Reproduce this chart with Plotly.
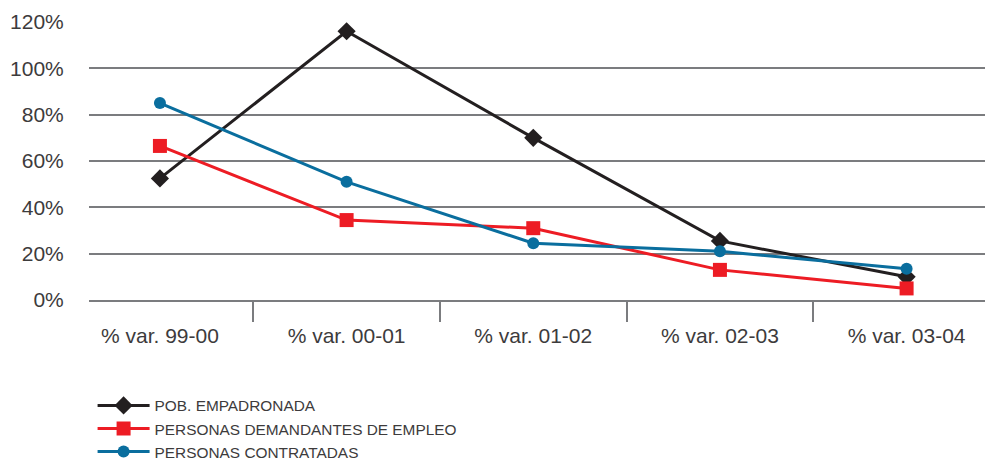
import plotly.graph_objects as go

# Year-over-year variation by period
categories = ["% var. 99-00", "% var. 00-01", "% var. 01-02", "% var. 02-03", "% var. 03-04"]
pob_empadronada = [52.5, 116, 70, 25.5, 10]
demandantes_empleo = [66.5, 34.5, 31, 13, 5]
contratadas = [85, 51, 24.5, 21, 13.5]

y_ticks = [0, 20, 40, 60, 80, 100, 120]
y_tick_labels = [f"{v}%" for v in y_ticks]

series_names = ["POB. EMPADRONADA", "PERSONAS DEMANDANTES DE EMPLEO", "PERSONAS CONTRATADAS"]

GRID = "#7b7c7f"
TEXT = "#3d3b3c"
FONT = "Liberation Sans"

fig = go.Figure()

fig.add_trace(go.Scatter(
    x=categories, y=pob_empadronada, name=series_names[0],
    mode="lines+markers", cliponaxis=False,
    line=dict(color="#231f20", width=3),
    marker=dict(symbol="diamond", size=14, color="#231f20"),
))
fig.add_trace(go.Scatter(
    x=categories, y=demandantes_empleo, name=series_names[1],
    mode="lines+markers", cliponaxis=False,
    line=dict(color="#ed1c24", width=3),
    marker=dict(symbol="square", size=14, color="#ed1c24"),
))
fig.add_trace(go.Scatter(
    x=categories, y=contratadas, name=series_names[2],
    mode="lines+markers", cliponaxis=False,
    line=dict(color="#0a6e9e", width=3),
    marker=dict(symbol="circle", size=12, color="#0a6e9e"),
))

fig.update_layout(
    width=987, height=460,
    margin=dict(l=89, r=2, t=22, b=160, autoexpand=False),
    paper_bgcolor="white", plot_bgcolor="white",
    font=dict(family=FONT, color=TEXT),
    showlegend=True,
    legend=dict(
        x=0.004, y=-0.32, xanchor="left", yanchor="top",
        bgcolor="rgba(0,0,0,0)", borderwidth=0,
        font=dict(family=FONT, size=15.4, color=TEXT),
        itemwidth=52, tracegroupgap=0,
    ),
    xaxis=dict(
        type="category", range=[-0.38, 4.42],
        tickson="boundaries", ticks="outside", ticklen=20, tickwidth=2, tickcolor=GRID,
        ticklabelstandoff=16,
        showgrid=False, showline=True, linecolor=GRID, linewidth=2,
        tickfont=dict(family=FONT, size=21, color=TEXT),
        fixedrange=True,
    ),
    yaxis=dict(
        range=[0, 120], tickvals=y_ticks, ticktext=y_tick_labels,
        showgrid=True, gridcolor=GRID, gridwidth=2, zeroline=False, showline=False,
        ticks="outside", ticklen=20, tickcolor="rgba(0,0,0,0)",
        tickfont=dict(family=FONT, size=21, color=TEXT),
        fixedrange=True,
    ),
)

fig.write_html("out.html")
